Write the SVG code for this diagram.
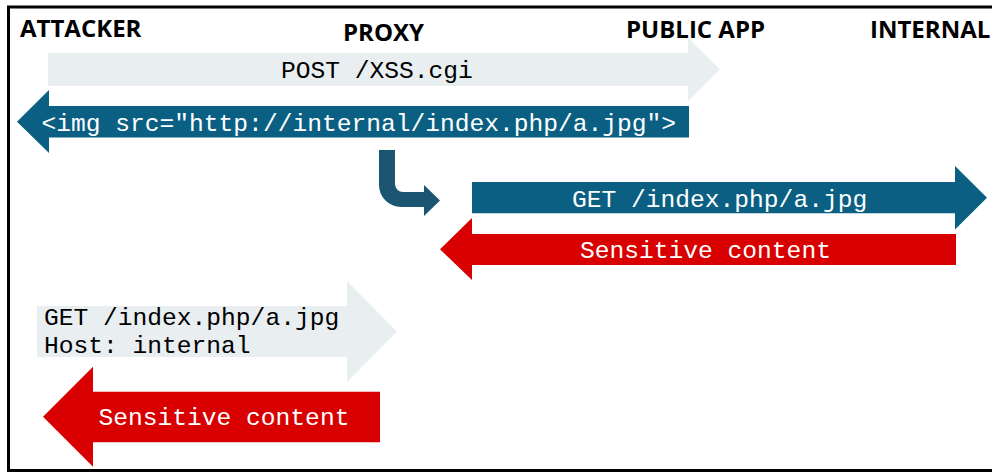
<svg xmlns="http://www.w3.org/2000/svg" width="992" height="474" viewBox="0 0 992 474">
  <style>
    .hdr { font-family: "Open Sans", "Liberation Sans", sans-serif; font-weight: 700; font-size: 24px; fill: #000; }
    .mono { font-family: "Liberation Mono", "Courier New", monospace; font-size: 24.6px; }
    .dark { fill: #000; }
    .light { fill: #fff; }
    .gray { fill: #E9EEF1; }
    .blue { fill: #0A5F82; }
    .red { fill: #D80000; }
    .bend { fill: #1B5572; }
  </style>

  <!-- outer frame -->
  <rect x="8.5" y="7" width="1000" height="463.5" fill="#fff" stroke="#000" stroke-width="3"/>

  <!-- participants -->
  <g id="attacker"><text class="hdr" x="20" y="37">ATTACKER</text></g>
  <g id="proxy"><text class="hdr" x="343" y="40.5">PROXY</text></g>
  <g id="public-app"><text class="hdr" x="626" y="37.5">PUBLIC APP</text></g>
  <g id="internal"><text class="hdr" x="870" y="37.5">INTERNAL</text></g>

  <g id="connectors">
    <!-- attacker -> public app: POST -->
    <g id="post-xss">
      <path class="gray" d="M48,53 H688 V38 L720,69.5 L688,101 V86 H48 Z"/>
      <text class="mono dark" x="281" y="77.7">POST /XSS.cgi</text>
    </g>

    <!-- public app -> attacker: injected image tag -->
    <g id="img-response">
      <path class="blue" d="M689,106 V137.5 H49 V153 L17,121.7 L49,90 V106 Z"/>
      <text class="mono light" x="41.5" y="131">&lt;img src="http://internal/index.php/a.jpg"&gt;</text>
    </g>

    <!-- browser follows the image URL -->
    <path id="follow" class="bend" d="M379,150 H395 V184 A8,8 0 0 0 403,192 H424 V185 L440,200.5 L424,216 V207 H401 A22,22 0 0 1 379,185 Z"/>

    <!-- proxy -> internal: GET -->
    <g id="get-internal">
      <path class="blue" d="M472,182 H955 V166 L987,197.7 L955,229.5 V213.3 H472 Z"/>
      <text class="mono light" x="572" y="207.3">GET /index.php/a.jpg</text>
    </g>

    <!-- internal -> proxy: sensitive content -->
    <g id="internal-response">
      <path class="red" d="M956,234 V265 H472 V280 L440,249.3 L472,218 V234 Z"/>
      <text class="mono light" x="580" y="257.5">Sensitive content</text>
    </g>

    <!-- attacker -> proxy: GET with Host header -->
    <g id="get-host">
      <path class="gray" d="M37,306 H347 V281 L397,331.5 L347,382 V357 H37 Z"/>
      <text class="mono dark" x="44" y="325">GET /index.php/a.jpg</text>
      <text class="mono dark" x="44" y="353">Host: internal</text>
    </g>

    <!-- proxy -> attacker: sensitive content -->
    <g id="proxy-response">
      <path class="red" d="M380,391.7 V442.3 H93 V466.7 L43,416.7 L93,366.7 V391.7 Z"/>
      <text class="mono light" x="98.5" y="425">Sensitive content</text>
    </g>
  </g>
</svg>
